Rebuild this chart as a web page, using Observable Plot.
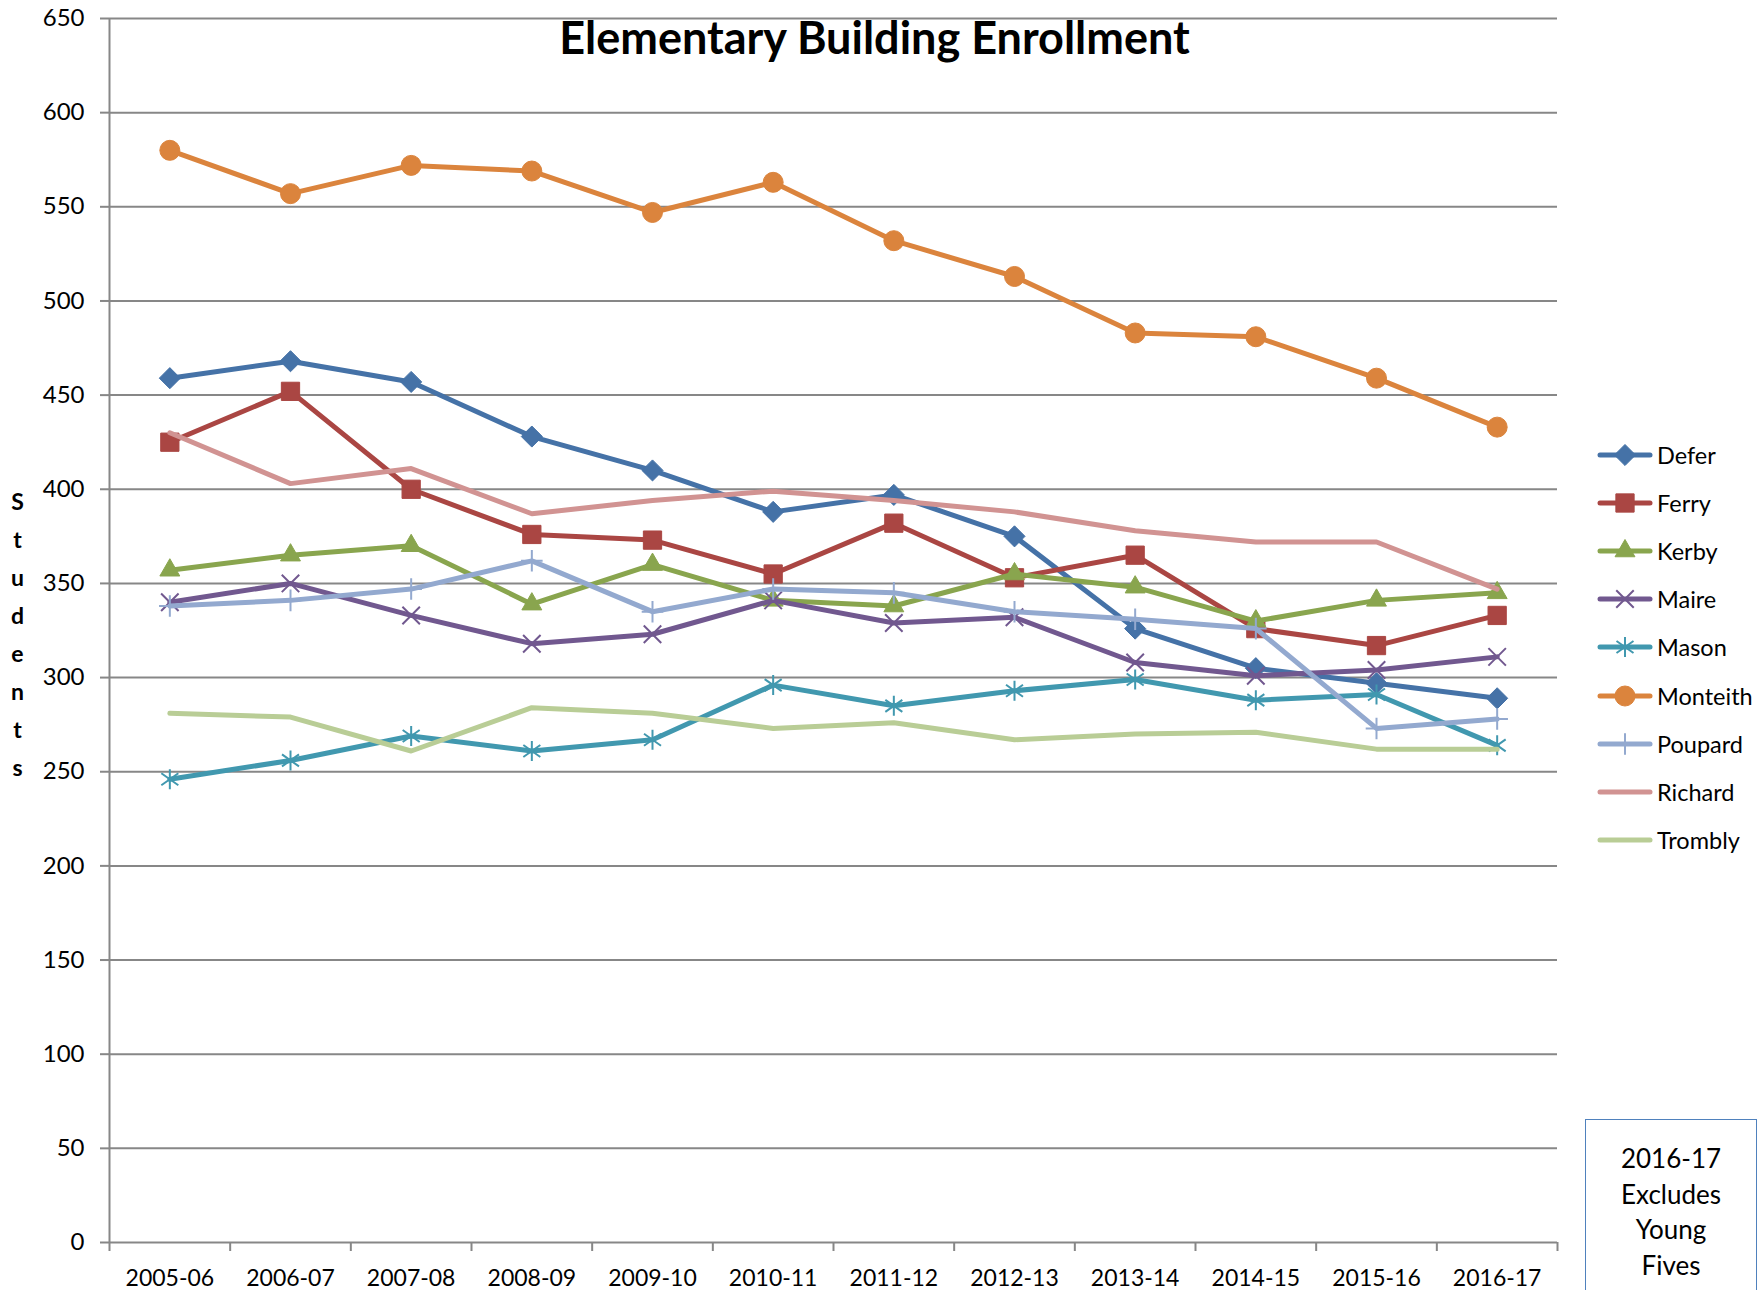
<!DOCTYPE html>
<html>
<head>
<meta charset="utf-8">
<script src="https://cdn.jsdelivr.net/npm/d3@7"></script>
<script src="https://cdn.jsdelivr.net/npm/@observablehq/plot@0.6"></script>
<style>
  html, body { margin: 0; padding: 0; background: #fff; overflow: hidden; }
  #wrap { position: relative; width: 1758px; height: 1290px; overflow: hidden; font-family: Lato, "Open Sans", sans-serif; }
  #wrap > svg { position: absolute; left: 0; top: 0; }
  #legend { position: absolute; left: 1597px; top: 0; }
  .row { position: absolute; left: 0; height: 30px; display: flex; align-items: center; white-space: nowrap; font-size: 23.5px; color: #000; }
  .row svg { display: block; margin-right: 4px; }
  #note { position: absolute; left: 1585px; top: 1119px; width: 172px; height: 230px; border: 1.5px solid #4F81BD; box-sizing: border-box; text-align: center; font-size: 26px; line-height: 35.5px; padding-top: 21px; color: #000; background: #fff; }
</style>
</head>
<body>
<div id="wrap"></div>
<script>
// ---- data ----
const title = "Elementary Building Enrollment";
const yLabel = "Students";
const noteLines = ["2016-17", "Excludes", "Young", "Fives"];
const years = ["2005-06", "2006-07", "2007-08", "2008-09", "2009-10", "2010-11",
               "2011-12", "2012-13", "2013-14", "2014-15", "2015-16", "2016-17"];
const yTicks = [0, 50, 100, 150, 200, 250, 300, 350, 400, 450, 500, 550, 600, 650];
const schools = ["Defer", "Ferry", "Kerby", "Maire", "Mason", "Monteith", "Poupard", "Richard", "Trombly"];

const defer    = [459, 468, 457, 428, 410, 388, 397, 375, 326, 305, 297, 289];
const ferry    = [425, 452, 400, 376, 373, 355, 382, 353, 365, 326, 317, 333];
const kerby    = [357, 365, 370, 339, 360, 341, 338, 355, 348, 330, 341, 345];
const maire    = [340, 350, 333, 318, 323, 341, 329, 332, 308, 301, 304, 311];
const mason    = [246, 256, 269, 261, 267, 296, 285, 293, 299, 288, 291, 264];
const monteith = [580, 557, 572, 569, 547, 563, 532, 513, 483, 481, 459, 433];
const poupard  = [338, 341, 347, 362, 335, 347, 345, 335, 331, 326, 273, 278];
const richard  = [430, 403, 411, 387, 394, 399, 394, 388, 378, 372, 372, 347];
const trombly  = [281, 279, 261, 284, 281, 273, 276, 267, 270, 271, 262, 262];

const seriesValues = [defer, ferry, kerby, maire, mason, monteith, poupard, richard, trombly];

// ---- styles ----
const star = {
  draw(ctx, size) {
    const r = Math.sqrt(size / Math.PI);
    const dx = r * 0.85, dy = r * 0.6;
    ctx.moveTo(0, -r); ctx.lineTo(0, r);
    ctx.moveTo(-dx, -dy); ctx.lineTo(dx, dy);
    ctx.moveTo(-dx, dy); ctx.lineTo(dx, -dy);
  }
};
const styles = {
  Defer:    {color: "#4572A7", symbol: "diamond2", r: 9.5, filled: true},
  Ferry:    {color: "#AA4643", symbol: "square",   r: 10.3, filled: true},
  Kerby:    {color: "#89A54E", symbol: "triangle", r: 7.4, filled: true},
  Maire:    {color: "#71588F", symbol: "times",    r: 8,   filled: false},
  Mason:    {color: "#4198AF", symbol: star,       r: 10,  filled: false},
  Monteith: {color: "#DB843D", symbol: "circle",   r: 10,  filled: true},
  Poupard:  {color: "#93A9CF", symbol: "plus",     r: 7,   filled: false},
  Richard:  {color: "#D19392", symbol: null},
  Trombly:  {color: "#B9CD96", symbol: null}
};
const gridColor = "#878787";

// ---- table ----
const rows = schools.flatMap((s, k) =>
  seriesValues[k].map((v, i) => ({school: s, i, year: years[i], value: v})));

const seriesMarks = schools.flatMap((s) => {
  const st = styles[s];
  const data = rows.filter((d) => d.school === s);
  const out = [
    Plot.line(data, {x: (d) => d.i + 0.5, y: "value", stroke: st.color, strokeWidth: 5,
                     strokeLinejoin: "round", strokeLinecap: "round"})
  ];
  if (st.symbol) {
    out.push(Plot.dot(data, {
      x: (d) => d.i + 0.5, y: "value", symbol: st.symbol, r: st.r,
      fill: st.filled ? st.color : "none",
      stroke: st.color,
      strokeWidth: st.filled ? 1 : 2
    }));
  }
  return out;
});

const chart = Plot.plot({
  width: 1758,
  height: 1290,
  marginLeft: 109,
  marginRight: 201,
  marginTop: 18,
  marginBottom: 48,
  style: {fontFamily: "Lato, 'Open Sans', sans-serif", fontSize: "23px", color: "#000", background: "#fff"},
  x: {domain: [0, years.length]},
  y: {domain: [0, 650]},
  marks: [
    Plot.gridY({ticks: yTicks, stroke: gridColor, strokeOpacity: 1, strokeWidth: 2}),
    Plot.ruleX([0], {stroke: gridColor, strokeWidth: 2}),
    Plot.axisY({ticks: yTicks, tickSize: 9, tickPadding: 16, stroke: gridColor, strokeWidth: 2,
                fill: "#000", fontSize: 24, label: null}),
    Plot.axisX({ticks: d3.range(years.length + 1), tickSize: 9, stroke: gridColor, strokeWidth: 2,
                fill: "none", label: null}),
    Plot.axisX({ticks: years.map((_, i) => i + 0.5), tickFormat: (d) => years[Math.round(d - 0.5)],
                tickSize: 0, tickPadding: 27, fill: "#000", fontSize: 23, label: null}),
    ...seriesMarks,
    Plot.text([title], {text: (d) => d, frameAnchor: "top", lineAnchor: "top", dx: 41, dy: 4,
                        fontSize: 45, fontWeight: "bold", fill: "#000"}),
    Plot.text([yLabel], {text: (d) => d.split("").join("\n"), frameAnchor: "left", textAnchor: "middle",
                         lineAnchor: "middle", lineHeight: 38 / 23, dx: -92, dy: 0,
                         fontSize: 23, fontWeight: "bold", fill: "#000"})
  ]
});

const wrap = document.getElementById("wrap");
wrap.appendChild(chart);

// ---- legend ----
const legend = document.createElement("div");
legend.id = "legend";
wrap.appendChild(legend);
const d3Sym = {
  diamond2: d3.symbolDiamond2, square: d3.symbolSquare, triangle: d3.symbolTriangle,
  times: d3.symbolTimes, circle: d3.symbolCircle, plus: d3.symbolPlus
};
schools.forEach((s, k) => {
  const st = styles[s];
  const row = document.createElement("div");
  row.className = "row";
  row.style.top = (455 + k * 48.1 - 15) + "px";
  const svg = d3.create("svg").attr("width", 56).attr("height", 30);
  svg.append("line").attr("x1", 3).attr("x2", 53).attr("y1", 15).attr("y2", 15)
    .attr("stroke", st.color).attr("stroke-width", 5).attr("stroke-linecap", "round");
  if (st.symbol) {
    const type = typeof st.symbol === "string" ? d3Sym[st.symbol] : st.symbol;
    svg.append("path")
      .attr("transform", "translate(28,15)")
      .attr("d", d3.symbol(type, Math.PI * st.r * st.r)())
      .attr("fill", st.filled ? st.color : "none")
      .attr("stroke", st.color)
      .attr("stroke-width", st.filled ? 1 : 2);
  }
  row.appendChild(svg.node());
  const span = document.createElement("span");
  span.textContent = s;
  row.appendChild(span);
  legend.appendChild(row);
});

// ---- note box ----
const note = document.createElement("div");
note.id = "note";
noteLines.forEach((t) => {
  const d = document.createElement("div");
  d.textContent = t;
  note.appendChild(d);
});
wrap.appendChild(note);
</script>
</body>
</html>
